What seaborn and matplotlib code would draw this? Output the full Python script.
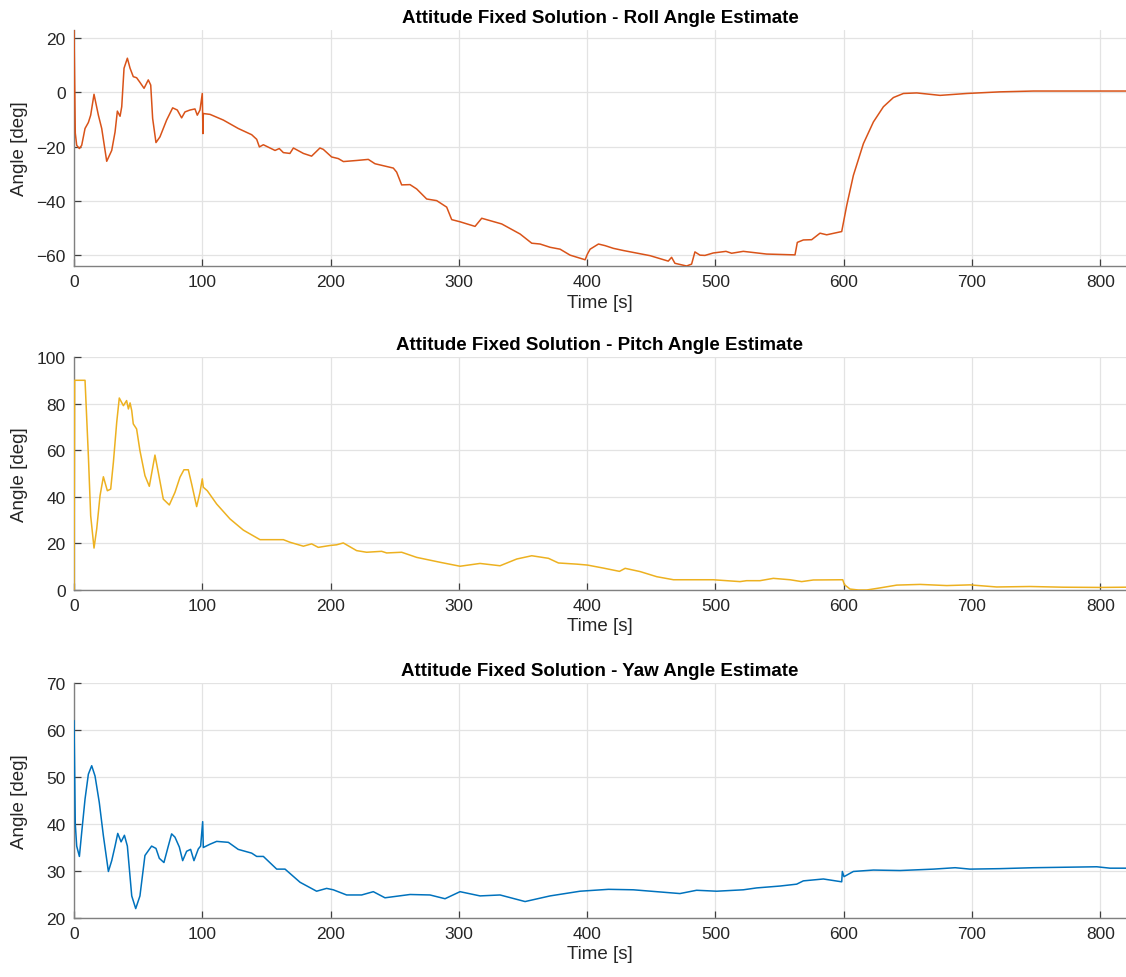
import numpy as np
import pandas as pd
import seaborn as sns
import matplotlib
matplotlib.use("Agg")
import matplotlib.pyplot as plt

# Roll angle estimate [deg] vs time [s]
roll_t = [0, 1.0, 2.1, 4.2, 6.0, 8.6, 11.2, 13.0, 15.6, 19.0, 21.6, 25.5, 29.4, 32.0,
          33.8, 35.9, 37.2, 39.0, 41.6, 43.7, 46.2, 48.8, 51.4, 54.6, 57.9, 59.8,
          61.3, 63.9, 67.0, 72.2, 76.9, 80.5, 83.9, 86.5, 90.4, 94.3, 96.1, 98.2,
          100.0, 100.5, 100.8, 106, 116.4, 128, 138.5, 142.4, 144.5, 147.6, 156.7,
          160, 163.2, 168.3, 171, 178.8, 185.2, 191.7, 194.3, 200.8, 206, 210,
          220.3, 229.4, 234.6, 248.9, 251.5, 255.4, 261.9, 267.1, 274.9, 282.7,
          290.5, 294.4, 300.9, 312.6, 317.8, 333.4, 347.7, 356.8, 363.3, 371.1,
          378.9, 386.7, 398.4, 400.2, 402.3, 408.8, 414, 420.5, 428.3, 449.1,
          463.2, 465.8, 468.4, 477.5, 481.4, 484, 487.9, 491.8, 498.3, 508.2,
          512.6, 521.7, 539.9, 562, 563.8, 568.5, 575, 581.5, 586.7, 598.4,
          602.3, 607.5, 615.3, 623.1, 630.9, 638.7, 646.5, 656.9, 675.1, 695.9,
          721.9, 747.9, 773.8, 820]
roll_v = [23, -15, -19.5, -20.7, -19.5, -13.3, -11.1, -8.4, -0.7, -8.4, -13.3, -25.4,
          -21.4, -14.6, -6.9, -8.8, -5.3, 8.9, 12.6, 8.9, 5.8, 5.4, 3.7, 1.5, 4.6,
          2.7, -9.6, -18.5, -16.4, -10.2, -5.7, -6.5, -9.4, -7.2, -6.5, -6.1, -8.4,
          -6.5, -0.4, -15.2, -7.8, -8.1, -10.2, -13.3, -15.6, -17.3, -20.1, -19.3,
          -21.4, -20.7, -22.2, -22.5, -20.5, -22.5, -23.5, -20.5, -21.0, -23.8,
          -24.4, -25.5, -25.1, -24.7, -26.3, -27.9, -29.4, -34.1, -34.0, -35.6,
          -39.3, -39.9, -42.3, -46.9, -47.7, -49.4, -46.4, -48.5, -52.2, -55.6,
          -55.9, -57.1, -57.8, -60.0, -61.7, -59.6, -57.8, -55.9, -56.5, -57.5,
          -58.3, -60.2, -62.2, -60.8, -63.0, -64.0, -63.3, -58.8, -60.0, -60.1,
          -59.2, -58.6, -59.3, -58.6, -59.6, -59.9, -55.3, -54.4, -54.3, -51.9,
          -52.5, -51.3, -41.7, -30.6, -18.9, -10.9, -5.3, -1.9, -0.4, -0.2, -1.1,
          -0.4, 0.2, 0.5, 0.5, 0.5]

# Pitch angle estimate [deg] vs time [s]
pitch_t = [0, 0.5, 8.6, 11.2, 13.0, 15.6, 17.7, 20.3, 22.9, 26.0, 28.6, 30.7, 33.3,
           35.3, 38.5, 41.0, 42.4, 43.7, 45.0, 46.2, 48.8, 51.4, 55.3, 58.7, 63.1,
           65.7, 69.6, 74.3, 78.7, 82.6, 85.7, 89.1, 91.7, 95.6, 98.2, 100.0, 100.8,
           103.9, 111.2, 121.6, 132, 145, 163.2, 168.3, 178.8, 185.2, 190.4, 199.5,
           204.7, 209.9, 220.3, 228.1, 239.8, 243.7, 255.4, 267.1, 285.3, 300.9,
           316.5, 332.1, 345.1, 356.8, 369.8, 377.6, 391.9, 400.2, 412.7, 425.2,
           429.6, 441.3, 454.3, 467.3, 488.1, 498.3, 519.1, 524.3, 534.7, 545.1,
           558.1, 567.2, 576.3, 599.2, 600.5, 604.9, 611.4, 617.9, 628.3, 641.3,
           659.5, 680.3, 698.4, 719.2, 745.2, 771.2, 799.8, 820]
pitch_v = [0, 90, 90, 57.6, 31.9, 18.0, 26.2, 40.5, 48.6, 42.6, 43.3, 54.8, 72.0,
           82.4, 79.1, 81.3, 77.7, 80.3, 77.0, 71.3, 69.1, 59.8, 49.1, 44.5, 57.9,
           50.5, 39.0, 36.5, 41.9, 48.4, 51.6, 51.6, 45.5, 35.8, 41.9, 47.7, 44.1,
           42.6, 36.9, 30.5, 25.7, 21.6, 21.6, 20.5, 18.8, 19.8, 18.3, 19.1, 19.4,
           20.2, 16.9, 16.2, 16.6, 15.9, 16.2, 14.0, 11.9, 10.2, 11.4, 10.4, 13.3,
           14.7, 13.6, 11.6, 11.1, 10.7, 9.4, 8.0, 9.3, 7.9, 5.7, 4.4, 4.4, 4.4,
           3.6, 4.0, 4.0, 5.0, 4.4, 3.6, 4.3, 4.4, 2.3, 0.4, 0.0, 0.0, 0.9, 2.1,
           2.4, 1.9, 2.2, 1.3, 1.5, 1.2, 1.1, 1.2]

# Yaw angle estimate [deg] vs time [s]
yaw_t = [0, 1.0, 2.1, 4.2, 6.0, 8.6, 11.2, 13.8, 16.4, 19.7, 22.9, 26.8, 29.4, 32.0,
         34.1, 36.7, 39.3, 41.6, 45.0, 48.1, 51.4, 55.3, 59.2, 60.5, 63.9, 66.5,
         70.1, 73.5, 76.1, 78.7, 82.1, 84.7, 87.8, 90.9, 93.5, 96.9, 98.7, 100.3,
         100.8, 106, 111.2, 120.3, 128, 138.5, 142.4, 147.6, 158, 164.5, 176.2,
         189.1, 196.9, 202.1, 212.5, 224.2, 233.3, 242.4, 261.9, 277.5, 289.2,
         300.9, 316.5, 332.1, 351.6, 371.1, 394.5, 416.6, 436, 472.3, 485.3, 501,
         521.7, 532.1, 550.3, 563.3, 568.5, 584.1, 598.4, 598.9, 600.2, 607.5,
         623.1, 643.9, 669.9, 686.8, 698.4, 721.8, 747.8, 797.2, 807.6, 820]
yaw_v = [62, 40, 35.3, 33.1, 38.2, 45.3, 50.6, 52.4, 50.2, 44.6, 37.5, 29.9, 32.2,
         35.3, 38.0, 36.2, 37.6, 35.3, 24.7, 22.0, 24.7, 33.3, 34.8, 35.3, 34.8,
         32.7, 31.8, 35.3, 37.9, 37.2, 35.1, 32.2, 34.2, 34.6, 32.2, 34.7, 35.3,
         40.5, 35.0, 35.7, 36.3, 36.1, 34.6, 33.8, 33.1, 33.1, 30.4, 30.4, 27.6,
         25.7, 26.3, 26.0, 24.9, 24.9, 25.6, 24.3, 25.0, 24.9, 24.1, 25.6, 24.7,
         24.9, 23.5, 24.7, 25.7, 26.1, 26.0, 25.2, 25.9, 25.7, 26.0, 26.4, 26.8,
         27.2, 27.9, 28.3, 27.7, 29.9, 28.8, 29.9, 30.2, 30.1, 30.4, 30.7, 30.4,
         30.5, 30.7, 30.9, 30.6, 30.6]

titles = ["Attitude Fixed Solution - Roll Angle Estimate",
          "Attitude Fixed Solution - Pitch Angle Estimate",
          "Attitude Fixed Solution - Yaw Angle Estimate"]
x_ticks = [0, 100, 200, 300, 400, 500, 600, 700, 800]
y_ticks = [[-60, -40, -20, 0, 20],
           [0, 20, 40, 60, 80, 100],
           [20, 30, 40, 50, 60, 70]]
y_limits = [(-64, 23), (0, 100), (20, 70)]
colors = ["#D95319", "#EDB120", "#0072BD"]

sns.set_theme(style="whitegrid")
plt.rcParams["font.family"] = ["Liberation Sans", "DejaVu Sans"]

fig = plt.figure(figsize=(11.26, 9.78), dpi=100)
left, width = 74 / 1126, 1052 / 1126
boxes = [(31, 267), (358, 591), (684, 919)]

series = [(roll_t, roll_v), (pitch_t, pitch_v), (yaw_t, yaw_v)]
for i, ((t, v), (top, bot)) in enumerate(zip(series, boxes)):
    ax = fig.add_axes([left, 1 - bot / 978, width, (bot - top) / 978])
    df = pd.DataFrame({"Time [s]": t, "Angle [deg]": v})
    sns.lineplot(data=df, x="Time [s]", y="Angle [deg]", ax=ax, color=colors[i],
                 linewidth=1.1, sort=False, estimator=None, zorder=4)
    ax.set_xlim(0, 820)
    ax.set_ylim(*y_limits[i])
    ax.set_xticks(x_ticks)
    ax.set_yticks(y_ticks[i])
    ax.grid(True, color="#e3e3e3", linewidth=0.9)
    ax.set_facecolor("white")
    for side in ["top", "right"]:
        ax.spines[side].set_visible(False)
    for side in ["left", "bottom"]:
        ax.spines[side].set_visible(True)
        ax.spines[side].set_color("#808080")
        ax.spines[side].set_linewidth(1.0)
    ax.tick_params(axis="both", direction="in", length=5, width=0.9,
                   color="#404040", labelsize=12.5, labelcolor="#262626",
                   left=True, bottom=True, pad=6)
    ax.set_xlabel("Time [s]", fontsize=13.5, color="#262626", labelpad=3)
    ax.set_ylabel("Angle [deg]", fontsize=13.5, color="#262626")
    ax.yaxis.set_label_coords(-0.044, 0.5)
    ax.set_title(titles[i], fontsize=13.5, fontweight="bold", color="black", pad=6)

fig.savefig("out.png", dpi=100, facecolor="white")
